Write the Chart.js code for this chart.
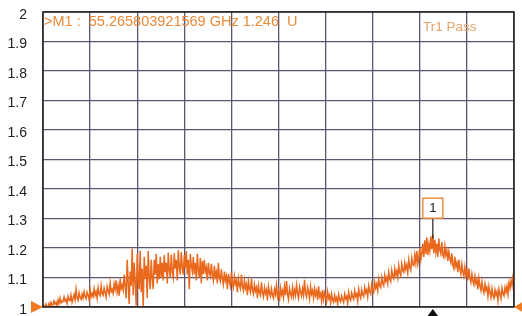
<!DOCTYPE html>
<html>
<head>
<meta charset="utf-8">
<script src="https://cdn.jsdelivr.net/npm/chart.js@4.4.0/dist/chart.umd.min.js"></script>
<style>
  body { margin: 0; background: #fff; }
  canvas { display: block; }
</style>
</head>
<body>
<canvas id="trace-chart" width="522" height="316"></canvas>
<script>
// sweep definition (GHz)
const START_GHZ = 45;
const STOP_GHZ = 57.5;

const traceValues = [
    1.000, 1.004, 0.998, 1.010, 1.001, 0.999, 1.012, 1.004, 1.016, 1.006,
    1.008, 1.020, 1.010, 1.016, 1.004, 1.024, 1.012, 1.030, 1.014, 1.020,
    1.018, 1.034, 1.020, 1.026, 1.012, 1.036, 1.024, 1.022, 1.040, 1.016,
    1.028, 1.042, 1.024, 1.060, 1.030, 1.022, 1.048, 1.032, 1.026, 1.044,
    1.030, 1.052, 1.036, 1.028, 1.050, 1.040, 1.024, 1.058, 1.034, 1.046,
    1.036, 1.062, 1.040, 1.052, 1.030, 1.066, 1.044, 1.038, 1.072, 1.046,
    1.040, 1.064, 1.050, 1.034, 1.070, 1.056, 1.044, 1.082, 1.052, 1.060,
    1.046, 1.078, 1.060, 1.090, 1.050, 1.070, 1.038, 1.096, 1.062, 1.074,
    1.058, 1.110, 1.070, 1.030, 1.160, 1.082, 1.010, 1.120, 1.072, 1.198,
    1.040, 1.150, 1.085, 1.005, 1.180, 1.096, 1.060, 1.190, 1.050, 1.130,
    1.000, 1.170, 1.095, 1.140, 1.030, 1.190, 1.100, 1.060, 1.160, 1.098,
    1.060, 1.160, 1.110, 1.180, 1.080, 1.146, 1.094, 1.170, 1.100, 1.150,
    1.090, 1.176, 1.118, 1.150, 1.080, 1.185, 1.124, 1.100, 1.178, 1.120,
    1.100, 1.182, 1.130, 1.160, 1.090, 1.192, 1.136, 1.110, 1.186, 1.134,
    1.110, 1.176, 1.132, 1.190, 1.110, 1.160, 1.060, 1.180, 1.140, 1.120,
    1.170, 1.110, 1.150, 1.090, 1.180, 1.126, 1.100, 1.166, 1.080, 1.156,
    1.112, 1.160, 1.120, 1.134, 1.090, 1.150, 1.116, 1.104, 1.146, 1.110,
    1.090, 1.140, 1.104, 1.118, 1.080, 1.150, 1.100, 1.088, 1.128, 1.094,
    1.076, 1.120, 1.090, 1.104, 1.060, 1.112, 1.086, 1.070, 1.118, 1.080,
    1.066, 1.104, 1.078, 1.090, 1.050, 1.096, 1.074, 1.062, 1.110, 1.070,
    1.056, 1.090, 1.064, 1.078, 1.040, 1.086, 1.062, 1.050, 1.096, 1.058,
    1.044, 1.076, 1.054, 1.066, 1.030, 1.072, 1.050, 1.040, 1.084, 1.048,
    1.034, 1.066, 1.046, 1.058, 1.022, 1.070, 1.048, 1.036, 1.062, 1.040,
    1.030, 1.060, 1.044, 1.074, 1.036, 1.052, 1.020, 1.064, 1.042, 1.056,
    1.032, 1.070, 1.040, 1.088, 1.044, 1.026, 1.062, 1.046, 1.034, 1.066,
    1.036, 1.058, 1.040, 1.074, 1.046, 1.030, 1.068, 1.052, 1.038, 1.062,
    1.040, 1.092, 1.046, 1.034, 1.066, 1.050, 1.028, 1.070, 1.044, 1.056,
    1.030, 1.062, 1.040, 1.054, 1.024, 1.070, 1.036, 1.046, 1.020, 1.058,
    1.026, 1.048, 1.034, 1.018, 1.052, 1.030, 1.040, 1.014, 1.044, 1.024,
    1.016, 1.040, 1.022, 1.032, 1.010, 1.042, 1.024, 1.018, 1.038, 1.026,
    1.016, 1.044, 1.028, 1.036, 1.012, 1.050, 1.030, 1.022, 1.048, 1.034,
    1.026, 1.056, 1.036, 1.044, 1.020, 1.060, 1.040, 1.030, 1.058, 1.042,
    1.036, 1.066, 1.048, 1.058, 1.034, 1.072, 1.052, 1.044, 1.076, 1.056,
    1.050, 1.084, 1.064, 1.078, 1.056, 1.094, 1.072, 1.066, 1.100, 1.080,
    1.072, 1.108, 1.088, 1.100, 1.080, 1.118, 1.094, 1.086, 1.124, 1.104,
    1.096, 1.130, 1.108, 1.122, 1.100, 1.140, 1.116, 1.106, 1.146, 1.124,
    1.118, 1.150, 1.128, 1.142, 1.116, 1.160, 1.134, 1.124, 1.166, 1.144,
    1.140, 1.176, 1.150, 1.190, 1.146, 1.168, 1.200, 1.160, 1.182, 1.214,
    1.170, 1.226, 1.180, 1.236, 1.176, 1.212, 1.190, 1.240, 1.196, 1.246,
    1.182, 1.228, 1.186, 1.214, 1.170, 1.232, 1.194, 1.180, 1.220, 1.176,
    1.168, 1.206, 1.176, 1.192, 1.156, 1.188, 1.164, 1.150, 1.182, 1.142,
    1.130, 1.170, 1.138, 1.150, 1.118, 1.160, 1.130, 1.112, 1.146, 1.120,
    1.104, 1.136, 1.110, 1.124, 1.090, 1.130, 1.100, 1.084, 1.112, 1.088,
    1.076, 1.104, 1.080, 1.092, 1.060, 1.098, 1.072, 1.056, 1.086, 1.060,
    1.048, 1.078, 1.056, 1.066, 1.036, 1.070, 1.050, 1.032, 1.062, 1.040,
    1.030, 1.058, 1.040, 1.052, 1.022, 1.060, 1.044, 1.028, 1.064, 1.046,
    1.038, 1.066, 1.050, 1.070, 1.044, 1.082, 1.064, 1.090, 1.072, 1.104,
    1.094
];

const yTickLabels = ['1', '1.1', '1.2', '1.3', '1.4', '1.5', '1.6', '1.7', '1.8', '1.9', '2'];
const markerIndex = 389;
const markerText = '>M1 :  55.265803921569 GHz 1.246  U';
const passText = 'Tr1 Pass';

const step = (STOP_GHZ - START_GHZ) / (traceValues.length - 1);
const points = traceValues.map((v, i) => ({ x: START_GHZ + i * step, y: v }));

const ORANGE = '#ea681c';
const GRID = '#5e566e';
const FONT = '"Liberation Sans", Arial, sans-serif';

const overlay = {
    id: 'overlay',
    afterDatasetsDraw(chart) {
        const { ctx, chartArea, scales } = chart;
        const xs = scales.x, ys = scales.y;
        ctx.save();

        // reference level arrows
        const yRef = ys.getPixelForValue(1);
        ctx.fillStyle = '#f07a22';
        ctx.beginPath();
        ctx.moveTo(chartArea.left - 12, yRef - 6);
        ctx.lineTo(chartArea.left, yRef);
        ctx.lineTo(chartArea.left - 12, yRef + 6);
        ctx.fill();
        ctx.beginPath();
        ctx.moveTo(chartArea.right + 10, yRef - 6);
        ctx.lineTo(chartArea.right, yRef);
        ctx.lineTo(chartArea.right + 10, yRef + 6);
        ctx.fill();

        // marker 1
        const mx = xs.getPixelForValue(points[markerIndex].x);
        const boxY = ys.getPixelForValue(1.335);
        ctx.strokeStyle = '#222';
        ctx.lineWidth = 1.2;
        ctx.beginPath();
        ctx.moveTo(mx, boxY + 10);
        ctx.lineTo(mx, ys.getPixelForValue(points[markerIndex].y) + 4);
        ctx.stroke();
        ctx.fillStyle = '#fff';
        ctx.fillRect(mx - 10, boxY - 10, 20, 20);
        ctx.strokeStyle = '#e8883a';
        ctx.lineWidth = 1.4;
        ctx.strokeRect(mx - 10, boxY - 10, 20, 20);
        ctx.fillStyle = '#222';
        ctx.font = '13px ' + FONT;
        ctx.textAlign = 'center';
        ctx.textBaseline = 'middle';
        ctx.fillText('1', mx, boxY);

        // marker arrow under the axis
        ctx.fillStyle = '#111';
        ctx.beginPath();
        ctx.moveTo(mx, chartArea.bottom + 2);
        ctx.lineTo(mx - 6, chartArea.bottom + 10);
        ctx.lineTo(mx + 6, chartArea.bottom + 10);
        ctx.fill();

        // annotations
        ctx.textAlign = 'left';
        ctx.font = '14.5px ' + FONT;
        ctx.fillStyle = '#ea8a3a';
        ctx.fillText(markerText, chartArea.left + 1, chartArea.top + 10);
        ctx.font = '13.5px ' + FONT;
        ctx.fillStyle = '#e6a46a';
        ctx.fillText(passText, chartArea.left + 380, chartArea.top + 15);

        // frame
        ctx.strokeStyle = '#222';
        ctx.lineWidth = 1.5;
        ctx.strokeRect(chartArea.left, chartArea.top, chartArea.right - chartArea.left, chartArea.bottom - chartArea.top);
        ctx.restore();
    }
};

const ctx = document.getElementById('trace-chart').getContext('2d');
const traceChart = new Chart(ctx, {
    type: 'line',
    data: {
        datasets: [{
            label: 'Tr1',
            data: points,
            borderColor: ORANGE,
            borderWidth: 1.5,
            pointRadius: 0,
            tension: 0,
            fill: false,
        }]
    },
    options: {
        responsive: false,
        animation: false,
        layout: { padding: { left: 0, top: 12, right: 8, bottom: 9 } },
        plugins: {
            legend: { display: false },
            tooltip: { enabled: false },
        },
        scales: {
            x: {
                type: 'linear',
                min: START_GHZ,
                max: STOP_GHZ,
                afterBuildTicks: (scale) => {
                    const t = [];
                    for (let k = 0; k <= 10; k++) t.push({ value: START_GHZ + k * (STOP_GHZ - START_GHZ) / 10 });
                    scale.ticks = t;
                },
                afterFit: (scale) => { scale.height = 0; },
                ticks: { display: false },
                grid: { color: GRID, lineWidth: 1.3, drawTicks: false },
                border: { display: false },
            },
            y: {
                min: 1,
                max: 2,
                afterBuildTicks: (scale) => {
                    scale.ticks = yTickLabels.map(l => ({ value: parseFloat(l) }));
                },
                afterFit: (scale) => {
                    scale.width = 43;
                    scale.paddingTop = 0;
                    scale.paddingBottom = 0;
                },
                ticks: {
                    callback: (v, i) => yTickLabels[i],
                    color: '#222',
                    font: { family: FONT, size: 14 },
                    padding: 16,
                    labelOffset: 3,
                },
                grid: { color: GRID, lineWidth: 1.3, drawTicks: false },
                border: { display: false },
            }
        }
    },
    plugins: [overlay]
});
</script>
</body>
</html>
